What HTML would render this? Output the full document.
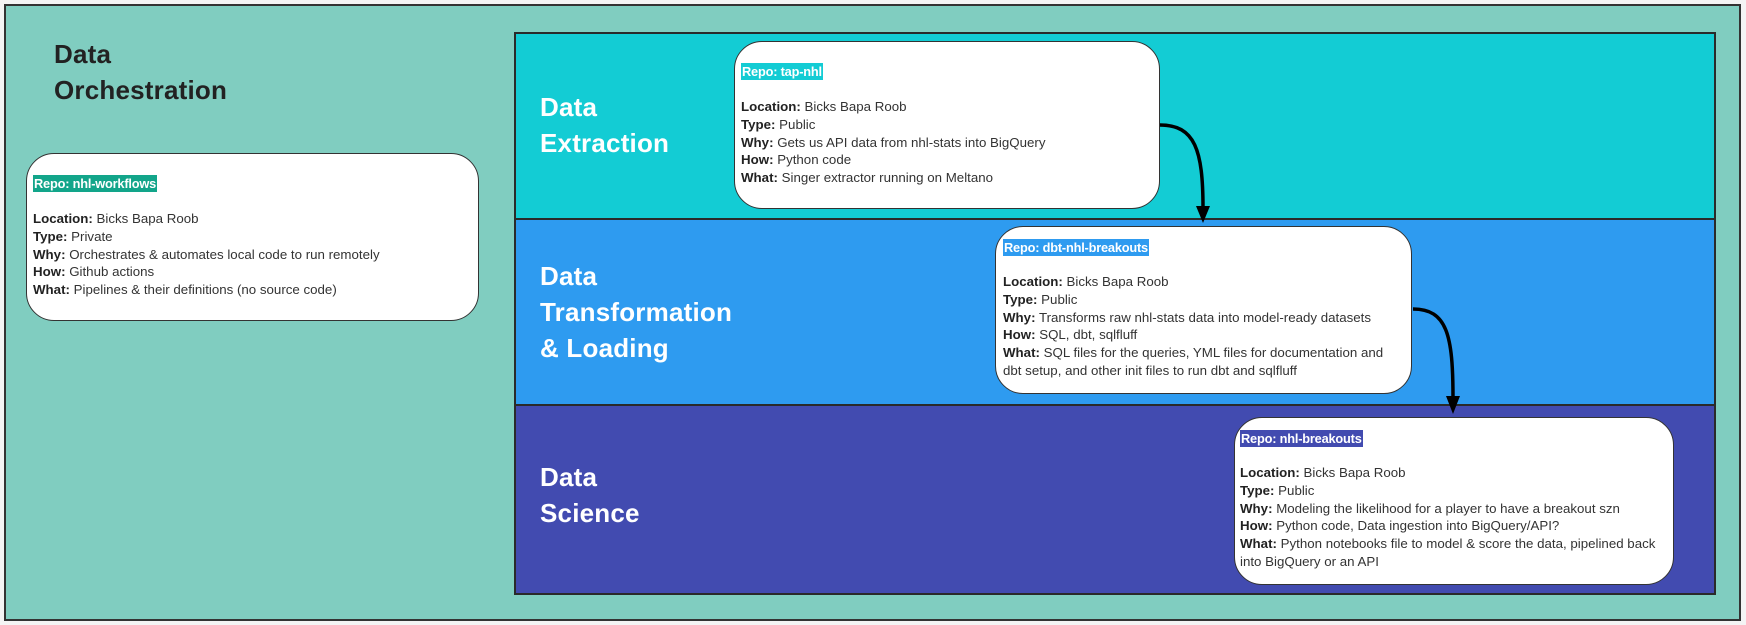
<!DOCTYPE html>
<html><head><meta charset="utf-8"><style>
body{margin:0;width:1746px;height:625px;background:#f4f4f4;position:relative;overflow:hidden;font-family:"Liberation Sans",sans-serif}
.a{position:absolute;box-sizing:border-box}
.frame{left:4px;top:4px;width:1737px;height:617px;background:#80cdc0;border:2px solid #333}
.band{left:514px;width:1202px;border:2px solid #2a2a2a}
.h{position:absolute;font-weight:bold;font-size:26px;line-height:36px;color:#fff;letter-spacing:0.2px}
.box{background:#fff;border:1.5px solid #333;border-radius:28px}
.t{position:absolute;font-size:13.3px;line-height:17.8px;color:#333;white-space:nowrap}
.t b{color:#222}
.lbl{display:inline-block;color:#fff;font-weight:bold;font-size:12.8px;line-height:17px;padding:0 1px;letter-spacing:-0.2px}
</style></head><body>
<div class="a frame"></div>
<div class="h" style="left:54px;top:36px;color:#222">Data<br>Orchestration</div>

<div class="a band" style="top:32px;height:188px;background:#13ccd4"></div>
<div class="a band" style="top:218px;height:188px;background:#2e9bf0"></div>
<div class="a band" style="top:404px;height:191px;background:#424bb0"></div>
<div class="h" style="left:540px;top:89px">Data<br>Extraction</div>
<div class="h" style="left:540px;top:258px">Data<br>Transformation<br>&amp; Loading</div>
<div class="h" style="left:540px;top:459px">Data<br>Science</div>

<div class="a box" style="left:26px;top:153px;width:453px;height:168px"></div>
<div class="t" style="left:33px;top:175px"><span class="lbl" style="background:#12a58a">Repo: nhl-workflows</span></div>
<div class="t" style="left:33px;top:210px"><b>Location:</b> Bicks Bapa Roob<br><b>Type:</b> Private<br><b>Why:</b> Orchestrates &amp; automates local code to run remotely<br><b>How:</b> Github actions<br><b>What:</b> Pipelines &amp; their definitions (no source code)</div>

<div class="a box" style="left:734px;top:41px;width:426px;height:168px"></div>
<div class="t" style="left:741px;top:63px"><span class="lbl" style="background:#13ccd4">Repo: tap-nhl</span></div>
<div class="t" style="left:741px;top:98px"><b>Location:</b> Bicks Bapa Roob<br><b>Type:</b> Public<br><b>Why:</b> Gets us API data from nhl-stats into BigQuery<br><b>How:</b> Python code<br><b>What:</b> Singer extractor running on Meltano</div>

<div class="a box" style="left:995px;top:226px;width:417px;height:168px"></div>
<div class="t" style="left:1003px;top:239px"><span class="lbl" style="background:#2e9bf0">Repo: dbt-nhl-breakouts</span></div>
<div class="t" style="left:1003px;top:273px"><b>Location:</b> Bicks Bapa Roob<br><b>Type:</b> Public<br><b>Why:</b> Transforms raw nhl-stats data into model-ready datasets<br><b>How:</b> SQL, dbt, sqlfluff<br><b>What:</b> SQL files for the queries, YML files for documentation and<br>dbt setup, and other init files to run dbt and sqlfluff</div>

<div class="a box" style="left:1234px;top:417px;width:440px;height:168px"></div>
<div class="t" style="left:1240px;top:430px"><span class="lbl" style="background:#424bb0">Repo: nhl-breakouts</span></div>
<div class="t" style="left:1240px;top:464px"><b>Location:</b> Bicks Bapa Roob<br><b>Type:</b> Public<br><b>Why:</b> Modeling the likelihood for a player to have a breakout szn<br><b>How:</b> Python code, Data ingestion into BigQuery/API?<br><b>What:</b> Python notebooks file to model &amp; score the data, pipelined back<br>into BigQuery or an API</div>

<svg class="a" style="left:0;top:0" width="1746" height="625">
<path d="M1160 125 C1195 125 1203 150 1203 208" fill="none" stroke="#000" stroke-width="3.5"/>
<polygon points="1196,206 1210,206 1203,223" fill="#000"/>
<path d="M1413 309 C1447 309 1453 335 1453 398" fill="none" stroke="#000" stroke-width="3.5"/>
<polygon points="1446,396 1460,396 1453,414" fill="#000"/>
</svg>
</body></html>
